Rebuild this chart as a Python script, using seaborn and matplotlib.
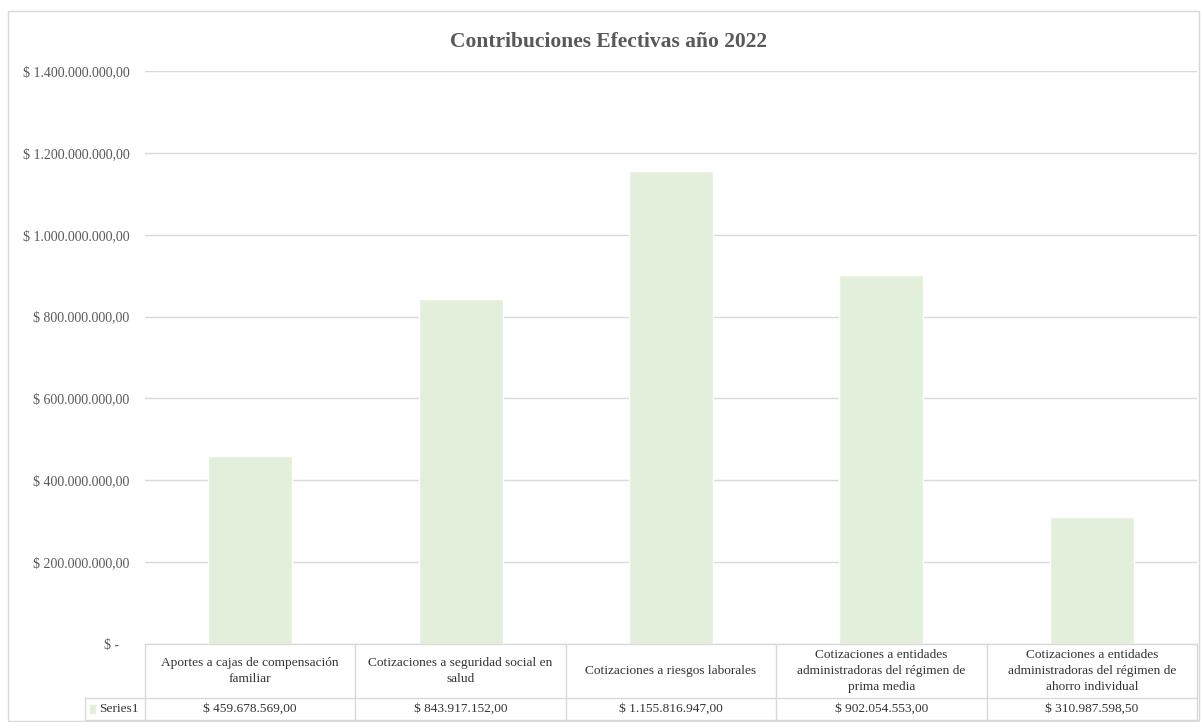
import numpy as np
import pandas as pd
import seaborn as sns
from matplotlib import pyplot as plt
from matplotlib.patches import Rectangle

# datos de la tabla
categorias = ["Aportes a cajas de compensación familiar",
              "Cotizaciones a seguridad social en salud",
              "Cotizaciones a riesgos laborales",
              "Cotizaciones a entidades administradoras del régimen de prima media",
              "Cotizaciones a entidades administradoras del régimen de ahorro individual"]
etiquetas = ["Aportes a cajas de compensación\nfamiliar",
             "Cotizaciones a seguridad social en\nsalud",
             "Cotizaciones a riesgos laborales",
             "Cotizaciones a entidades\nadministradoras del régimen de\nprima media",
             "Cotizaciones a entidades\nadministradoras del régimen de\nahorro individual"]
valores = [459678569.00, 843917152.00, 1155816947.00, 902054553.00, 310987598.50]
yticks = [0, 200000000, 400000000, 600000000, 800000000, 1000000000, 1200000000, 1400000000]
serie = "Series1"
titulo = "Contribuciones Efectivas año 2022"

verde = "#E2EFDA"
gris = "#D9D9D9"

def pesos(v):
    if v == 0:
        return "$ -   "
    s = f"{v:,.2f}".replace(",", "X").replace(".", ",").replace("X", ".")
    return "$ " + s

sns.set_theme(style="white")
plt.rcParams['font.family'] = ['Liberation Serif', 'DejaVu Serif']

W, H = 1201, 722
fig = plt.figure(figsize=(W / 100, H / 100), dpi=100)

df = pd.DataFrame({"cat": categorias, "valor": valores})

# area de barras
ax = fig.add_axes([145 / W, 1 - 644 / H, 1052 / W, (644 - 71) / H])
sns.barplot(data=df, x="cat", y="valor", color=verde, width=0.4, saturation=1, ax=ax, zorder=3)
ax.set_xlim(-0.5, len(categorias) - 0.5)
ax.set_ylim(0, yticks[-1])
ax.set_yticks(yticks)
ax.set_yticklabels([pesos(v) for v in yticks], fontsize=10, color="#595959")
ax.set_xticks([])
ax.set_xlabel("")
ax.set_ylabel("")
ax.tick_params(axis="y", length=0, pad=11)
for s in ax.spines.values():
    s.set_visible(False)
ax.grid(axis="y", color=gris, linewidth=1, zorder=0)

# tabla de datos
tab = fig.add_axes([145 / W, 2 / H, 1052 / W, 76 / H])
tab.set_xlim(-0.5, len(categorias) - 0.5)
tab.set_ylim(0, 76)
tab.axis("off")
n = len(categorias)
izq = -0.5 - 60 / 210.4
kw = dict(color=gris, linewidth=1, clip_on=False)
tab.plot([-0.5, n - 0.5], [76, 76], **kw)
tab.plot([izq, n - 0.5], [22, 22], **kw)
tab.plot([izq, n - 0.5], [0, 0], **kw)
for i in range(n + 1):
    tab.plot([i - 0.5, i - 0.5], [0, 76], **kw)
tab.plot([izq, izq], [0, 22], **kw)
for i in range(n):
    tab.text(i, 49, etiquetas[i], ha="center", va="center", fontsize=9.6,
             color="#333333", linespacing=1.45)
    tab.text(i, 11, pesos(valores[i]), ha="center", va="center", fontsize=9.6, color="#333333")
tab.add_patch(Rectangle((izq + 5 / 210.4, 7), 5 / 210.4, 8, color=verde, clip_on=False))
tab.text(izq + 14 / 210.4, 11, serie, ha="left", va="center", fontsize=9.6, color="#333333")

fig.text(608 / W, 1 - 42 / H, titulo, ha="center", va="center", fontsize=15.5,
         fontweight="bold", color="#595959")
fig.add_artist(Rectangle((8 / W, 1 / H), 1191 / W, 710 / H, transform=fig.transFigure,
                         fill=False, edgecolor=gris, linewidth=1))

fig.savefig("out.png", dpi=100)
